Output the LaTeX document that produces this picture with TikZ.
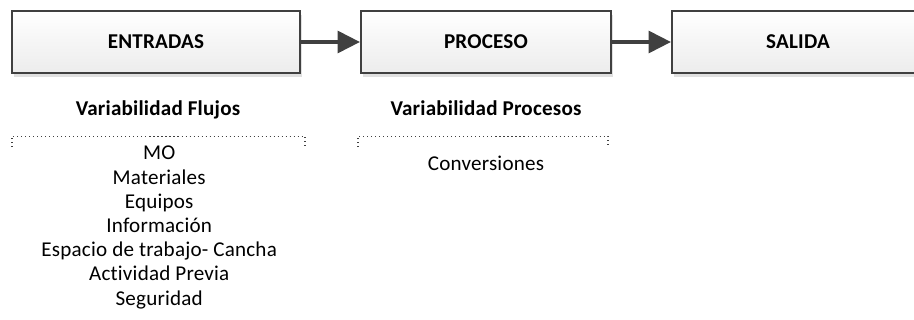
\documentclass[tikz,border=0pt]{standalone}
\usepackage{fontspec}
\setmainfont{Carlito}[LetterSpace=1, Ligatures=NoCommon]
\usepackage{xcolor}
\usepackage{tikz}
\usetikzlibrary{arrows.meta,positioning,shadows}

\definecolor{linegray}{HTML}{404040}
\definecolor{boxbottom}{HTML}{ECECEC}

\tikzset{
    stagebox/.style={draw=linegray, line width=1.5pt, rectangle, top color=white, bottom color=boxbottom,
        minimum height=1.55cm, font=\fontsize{15}{18}\selectfont\bfseries,
        drop shadow={shadow xshift=1.5pt, shadow yshift=-2.5pt, fill=black!30, opacity=0.4}},
    flow/.style={draw=linegray, line width=2.3pt, -{Triangle[length=0.56cm, width=0.55cm]}},
    heading/.style={font=\fontsize{15}{18}\selectfont\bfseries, anchor=base, inner sep=0pt},
    itemlist/.style={font=\fontsize{15}{17.2}\selectfont, align=center, anchor=north, inner sep=0pt},
    bracket/.style={draw=linegray, line width=0.75pt, dash pattern=on 0.75pt off 2.1pt}
}

\begin{document}
\begin{tikzpicture}
    \useasboundingbox (0,0) rectangle (22.85,-8);

    % Stages
    \node[stagebox, minimum width=7.2cm] (entradas) at (3.9,-1.05) {ENTRADAS};
    \node[stagebox, minimum width=6.25cm] (proceso) at (12.15,-1.05) {PROCESO};
    \node[stagebox, minimum width=6.3cm] (salida) at (19.95,-1.05) {SALIDA};

    % Flow
    \draw[flow] (entradas) -- (proceso);
    \draw[flow] (proceso) -- (salida);

    % Variability under each stage
    \node[heading] (flujos) at (3.95,-2.9) {Variabilidad Flujos};
    \node[heading] (procesos) at (12.15,-2.9) {Variabilidad Procesos};

    \draw[bracket] (0.3,-3.68) -- (0.3,-3.41) -- (7.625,-3.41) -- (7.625,-3.68);
    \draw[bracket] (8.95,-3.68) -- (8.95,-3.41) -- (15.2,-3.41) -- (15.2,-3.68);

    \node[itemlist] (recursos) at (3.98,-3.65) {MO\\Materiales\\Equipos\\Información\\Espacio de trabajo- Cancha\\Actividad Previa\\Seguridad};
    \node[itemlist] (conversiones) at (12.15,-3.9) {Conversiones};
\end{tikzpicture}
\end{document}
